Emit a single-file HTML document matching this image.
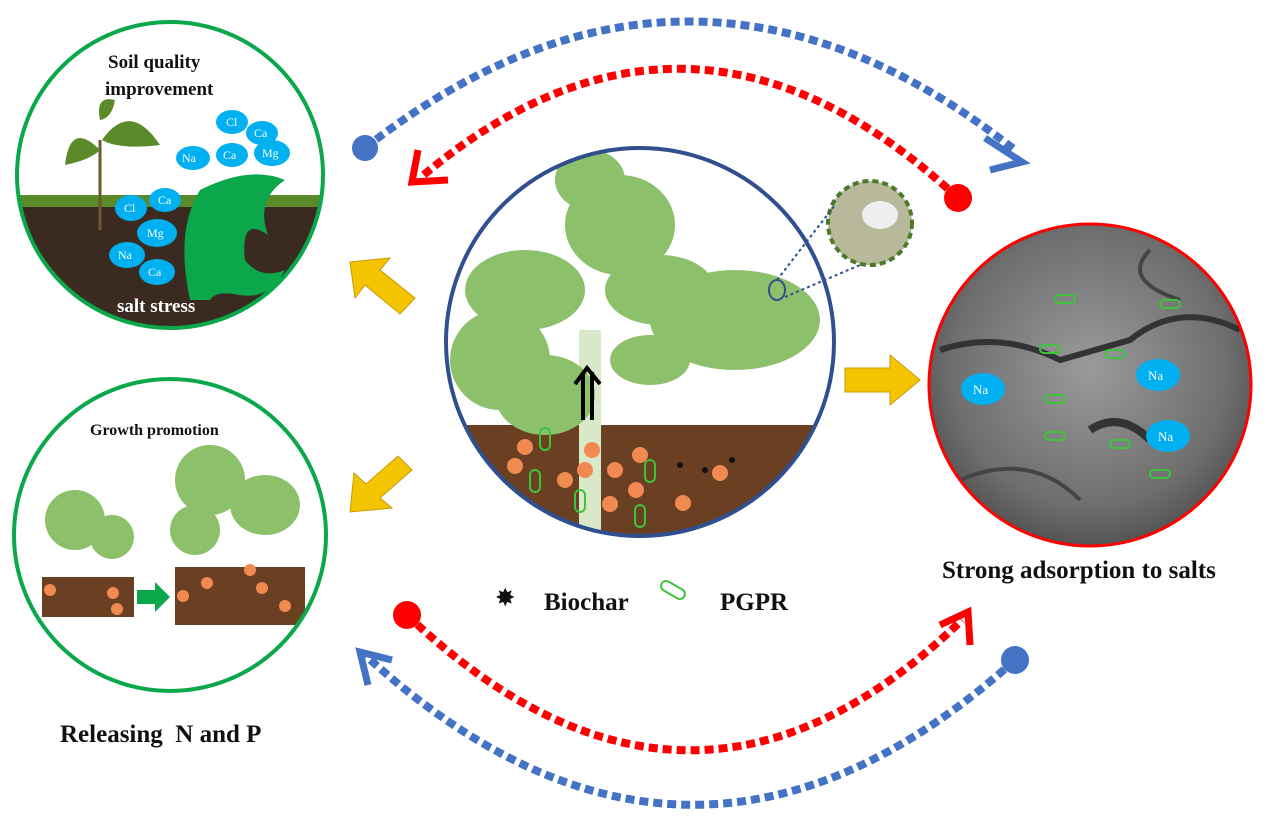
<!DOCTYPE html>
<html><head><meta charset="utf-8"><style>
html,body{margin:0;padding:0;background:#fff;width:1268px;height:827px;overflow:hidden}
svg{display:block}
text{font-family:"Liberation Serif",serif;font-weight:bold}
</style></head><body>
<svg width="1268" height="827" viewBox="0 0 1268 827" xmlns="http://www.w3.org/2000/svg">
<defs>
<clipPath id="c1"><circle cx="170" cy="175" r="153"/></clipPath>
<clipPath id="c2"><circle cx="640" cy="342" r="194"/></clipPath>
<clipPath id="c3"><circle cx="1090" cy="385" r="161"/></clipPath>
<clipPath id="c4"><circle cx="170" cy="535" r="156"/></clipPath>
<radialGradient id="sem" cx="50%" cy="45%" r="60%"><stop offset="0" stop-color="#9a9a9a"/><stop offset="0.7" stop-color="#6e6e6e"/><stop offset="1" stop-color="#474747"/></radialGradient>
</defs>

<!-- arcs -->
<path d="M365 148 Q690 -106 1015 150" fill="none" stroke="#4472c4" stroke-width="8" stroke-dasharray="9 5"/>
<circle cx="365" cy="148" r="13" fill="#4472c4"/>
<path d="M985 138 L1022 162 L990 170" fill="none" stroke="#4472c4" stroke-width="7"/>
<path d="M958 198 Q690 -50 420 178" fill="none" stroke="#ff0000" stroke-width="8" stroke-dasharray="9 5"/>
<circle cx="958" cy="198" r="14" fill="#ff0000"/>
<path d="M418 150 L412 182 L448 180" fill="none" stroke="#ff0000" stroke-width="7"/>
<path d="M407 615 Q690 883 962 620" fill="none" stroke="#ff0000" stroke-width="8" stroke-dasharray="9 5"/>
<circle cx="407" cy="615" r="14" fill="#ff0000"/>
<path d="M940 625 L968 612 L970 645" fill="none" stroke="#ff0000" stroke-width="7"/>
<path d="M1015 660 Q690 952 365 655" fill="none" stroke="#4472c4" stroke-width="8" stroke-dasharray="9 5"/>
<circle cx="1015" cy="660" r="14" fill="#4472c4"/>
<path d="M368 685 L360 652 L392 660" fill="none" stroke="#4472c4" stroke-width="7"/>

<!-- yellow arrows -->
<g fill="#f5c400" stroke="#c89a00" stroke-width="1">
<polygon points="350,262 390,258 380,270 415,298 400,314 365,285 355,298"/>
<polygon points="845,368 890,368 890,355 920,380 890,405 890,392 845,392"/>
<polygon points="350,512 354,473 366,484 398,456 412,470 380,498 392,508"/>
</g>

<!-- top-left circle -->
<g clip-path="url(#c1)">
<rect x="0" y="0" width="340" height="340" fill="#fff"/>
<rect x="0" y="200" width="340" height="140" fill="#3a2a20"/>
<rect x="0" y="195" width="340" height="12" fill="#5a8a2a"/>
<path d="M100 230 L100 140" stroke="#6b5a2a" stroke-width="3"/>
<path d="M100 150 Q70 120 65 165 Q90 160 100 150Z M102 140 Q130 100 160 145 Q120 150 102 140Z M100 120 Q95 95 115 100 Q112 118 100 120Z" fill="#5a8a2a"/>
<path d="M190 300 Q175 230 200 190 Q250 165 285 180 Q255 200 268 235 Q240 215 245 260 Q260 280 285 270 Q270 300 240 295 Q215 290 210 300Z" fill="#0aa84a"/>
</g>
<circle cx="170" cy="175" r="153" fill="none" stroke="#0aa84a" stroke-width="4"/>
<g fill="#00b0f0">
<ellipse cx="232" cy="122" rx="16" ry="12"/><ellipse cx="262" cy="133" rx="16" ry="12"/><ellipse cx="193" cy="158" rx="17" ry="12"/><ellipse cx="232" cy="155" rx="16" ry="12"/><ellipse cx="272" cy="153" rx="18" ry="13"/>
<ellipse cx="131" cy="208" rx="16" ry="13"/><ellipse cx="165" cy="200" rx="16" ry="12"/><ellipse cx="157" cy="233" rx="20" ry="14"/><ellipse cx="127" cy="255" rx="18" ry="13"/><ellipse cx="157" cy="272" rx="18" ry="13"/>
</g>
<g fill="#fff" font-size="12">
<text x="226" y="126" style="font-weight:normal">Cl</text><text x="254" y="137" style="font-weight:normal">Ca</text><text x="182" y="162" style="font-weight:normal">Na</text><text x="223" y="159" style="font-weight:normal">Ca</text><text x="262" y="157" style="font-weight:normal">Mg</text>
<text x="124" y="212" style="font-weight:normal">Cl</text><text x="158" y="204" style="font-weight:normal">Ca</text><text x="147" y="237" style="font-weight:normal">Mg</text><text x="118" y="259" style="font-weight:normal">Na</text><text x="148" y="276" style="font-weight:normal">Ca</text>
</g>
<text x="108" y="68" font-size="19" fill="#111">Soil quality</text>
<text x="105" y="95" font-size="19" fill="#111">improvement</text>
<text x="117" y="312" font-size="19" fill="#fff">salt stress</text>

<!-- center circle -->
<g clip-path="url(#c2)">
<rect x="440" y="140" width="400" height="410" fill="#fff"/>
<rect x="440" y="425" width="400" height="125" fill="#6b3f22"/>
<path d="M590 530 L590 330" stroke="#d8e8c8" stroke-width="22"/>
<g fill="#8cc06a">
<ellipse cx="620" cy="225" rx="55" ry="50"/><ellipse cx="525" cy="290" rx="60" ry="40"/><ellipse cx="500" cy="360" rx="50" ry="50"/><ellipse cx="545" cy="395" rx="50" ry="40"/>
<ellipse cx="735" cy="320" rx="85" ry="50"/><ellipse cx="660" cy="290" rx="55" ry="35"/><ellipse cx="590" cy="180" rx="35" ry="30"/><ellipse cx="650" cy="360" rx="40" ry="25"/>
</g>
<g fill="#f08a50">
<circle cx="525" cy="447" r="8"/><circle cx="515" cy="466" r="8"/><circle cx="592" cy="450" r="8"/><circle cx="640" cy="455" r="8"/><circle cx="565" cy="480" r="8"/><circle cx="585" cy="470" r="8"/><circle cx="615" cy="470" r="8"/><circle cx="636" cy="490" r="8"/><circle cx="610" cy="504" r="8"/><circle cx="720" cy="473" r="8"/><circle cx="683" cy="503" r="8"/>
</g>
<g fill="#111"><circle cx="680" cy="465" r="3"/><circle cx="705" cy="470" r="3"/><circle cx="732" cy="460" r="3"/><circle cx="507" cy="490" r="3"/></g>
<g fill="none" stroke="#3cc43c" stroke-width="2"><rect x="540" y="428" width="10" height="22" rx="5"/><rect x="530" y="470" width="10" height="22" rx="5"/><rect x="645" y="460" width="10" height="22" rx="5"/><rect x="575" y="490" width="10" height="22" rx="5"/><rect x="635" y="505" width="10" height="22" rx="5"/></g>
<path d="M583 420 L583 372 M592 420 L592 372 M575 384 L587 368 L600 384" stroke="#000" stroke-width="4" fill="none"/>
</g>
<circle cx="640" cy="342" r="194" fill="none" stroke="#2f4f8f" stroke-width="4"/>
<circle cx="870" cy="223" r="42" fill="#b8b89a" stroke="#4a7a2a" stroke-width="4" stroke-dasharray="6 4"/>
<ellipse cx="880" cy="215" rx="18" ry="14" fill="#eee"/>
<ellipse cx="777" cy="290" rx="8" ry="10" fill="none" stroke="#2f4f8f" stroke-width="2"/>
<path d="M777 280 L835 205 M785 297 L860 265" stroke="#2f4f8f" stroke-width="2" stroke-dasharray="3 3"/>

<!-- right circle -->
<g clip-path="url(#c3)">
<rect x="925" y="220" width="330" height="330" fill="url(#sem)"/>
<path d="M940 350 Q1000 330 1060 360 L1130 340 Q1180 300 1240 330" stroke="#333" stroke-width="6" fill="none"/>
<path d="M1090 430 Q1120 410 1150 440" stroke="#333" stroke-width="8" fill="none"/>
<path d="M960 480 Q1030 450 1080 500 M1150 250 Q1120 280 1180 300" stroke="#444" stroke-width="4" fill="none"/>
<g fill="none" stroke="#3cc43c" stroke-width="2"><rect x="1055" y="295" width="20" height="8" rx="4"/><rect x="1160" y="300" width="20" height="8" rx="4"/><rect x="1040" y="345" width="20" height="8" rx="4"/><rect x="1105" y="350" width="20" height="8" rx="4"/><rect x="1045" y="395" width="20" height="8" rx="4"/><rect x="1045" y="432" width="20" height="8" rx="4"/><rect x="1110" y="440" width="20" height="8" rx="4"/><rect x="1150" y="470" width="20" height="8" rx="4"/></g>
<ellipse cx="983" cy="389" rx="22" ry="16" fill="#00b0f0"/><ellipse cx="1158" cy="375" rx="22" ry="16" fill="#00b0f0"/><ellipse cx="1168" cy="436" rx="22" ry="16" fill="#00b0f0"/>
<g fill="#fff" font-size="13"><text x="973" y="394" style="font-weight:normal">Na</text><text x="1148" y="380" style="font-weight:normal">Na</text><text x="1158" y="441" style="font-weight:normal">Na</text></g>
</g>
<circle cx="1090" cy="385" r="161" fill="none" stroke="#ff0000" stroke-width="3"/>
<text x="942" y="578" font-size="25" fill="#111">Strong adsorption to salts</text>

<!-- bottom-left circle -->
<g clip-path="url(#c4)">
<rect x="0" y="370" width="340" height="330" fill="#fff"/>
<rect x="42" y="577" width="92" height="40" fill="#6b3f22"/>
<rect x="175" y="567" width="130" height="58" fill="#6b3f22"/>
<g fill="#8cc06a"><ellipse cx="75" cy="520" rx="30" ry="30"/><ellipse cx="112" cy="537" rx="22" ry="22"/><ellipse cx="210" cy="480" rx="35" ry="35"/><ellipse cx="195" cy="530" rx="25" ry="25"/><ellipse cx="265" cy="505" rx="35" ry="30"/></g>
<polygon points="137,590 155,590 155,582 170,597 155,612 155,604 137,604" fill="#0aa84a"/>
<g fill="#f08a50"><circle cx="50" cy="590" r="6"/><circle cx="113" cy="593" r="6"/><circle cx="117" cy="609" r="6"/><circle cx="183" cy="596" r="6"/><circle cx="207" cy="583" r="6"/><circle cx="250" cy="570" r="6"/><circle cx="262" cy="588" r="6"/><circle cx="285" cy="606" r="6"/></g>
</g>
<circle cx="170" cy="535" r="156" fill="none" stroke="#0aa84a" stroke-width="4"/>
<text x="90" y="435" font-size="16" fill="#111">Growth promotion</text>
<text x="60" y="742" font-size="25" fill="#111" xml:space="preserve">Releasing  N and P</text>

<!-- legend -->
<text x="496" y="605" font-size="22" fill="#111">✸</text>
<text x="544" y="610" font-size="25" fill="#111">Biochar</text>
<g fill="none" stroke="#3cc43c" stroke-width="2"><rect x="660" y="585" width="26" height="10" rx="5" transform="rotate(30 673 590)"/></g>
<text x="720" y="610" font-size="25" fill="#111">PGPR</text>
</svg>
</body></html>
